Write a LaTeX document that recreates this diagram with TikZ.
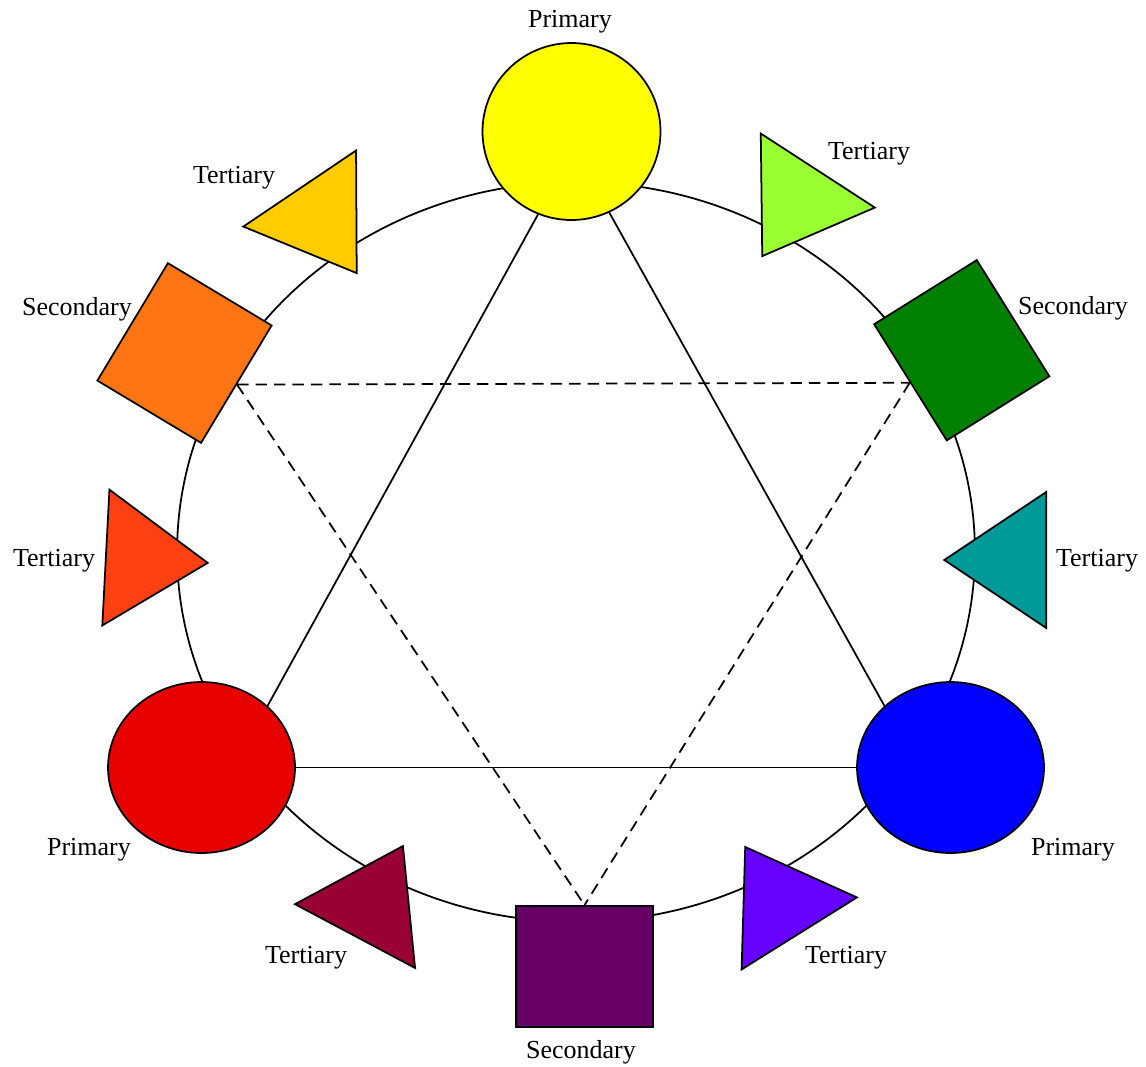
\documentclass[tikz,border=0pt]{standalone}
\usepackage{fontspec}
\setmainfont{Liberation Serif}
\usetikzlibrary{shapes.geometric}

\definecolor{hueyellow}{HTML}{FFFF00}
\definecolor{huelime}{HTML}{99FF33}
\definecolor{huegreen}{HTML}{008000}
\definecolor{hueteal}{HTML}{009999}
\definecolor{hueblue}{HTML}{0000FF}
\definecolor{hueviolet}{HTML}{6600FF}
\definecolor{huepurple}{HTML}{660066}
\definecolor{huecrimson}{HTML}{990033}
\definecolor{huered}{HTML}{E60000}
\definecolor{huevermilion}{HTML}{FF4013}
\definecolor{hueorange}{HTML}{FF7514}
\definecolor{huegold}{HTML}{FFCC00}

\begin{document}
\begin{tikzpicture}[x=0.02cm,y=-0.02cm]

\tikzset{
  huelabel/.style={font=\fontsize{14.8}{17}\selectfont, anchor=base, inner sep=0pt},
  wheelring/.style={ellipse, draw=black, line width=1pt, inner sep=0pt,
                  minimum width=15.96cm, minimum height=14.8cm},
  primarydisc/.style={ellipse, draw=black, line width=1pt, fill=#1, inner sep=0pt,
                  minimum width=3.74cm, minimum height=3.42cm},
  secondarybox/.style={rectangle, draw=black, line width=1pt, fill=#1, inner sep=0pt,
                  minimum width=2.74cm, minimum height=2.42cm},
  tertiarywedge/.style={isosceles triangle, isosceles triangle stretches,
                  draw=black, line width=1pt, fill=#1, inner sep=0pt,
                  minimum width=2.72cm, minimum height=2.04cm, anchor=apex},
  mixline/.style={black, line width=1pt},
  secline/.style={black, line width=1pt, dash pattern=on 6.5pt off 4pt}
}

\useasboundingbox (0,0) rectangle (1146,1066);

% Ring
\node[wheelring] (wheel) at (576,552) {};

% Primary colours
\node[primarydisc=hueyellow, minimum width=3.56cm, minimum height=3.54cm] (yellow) at (571.5,131.5) {};
\node[primarydisc=hueblue] (blue) at (950.5,767.5) {};
\node[primarydisc=huered]  (red)  at (201.5,767.5) {};

% Secondary colours
\node[secondarybox=huegreen, rotate=-58] (green)  at (961.75,350.25) {};
\node[secondarybox=huepurple]            (purple) at (584.5,966.5) {};
\node[secondarybox=hueorange, rotate=59] (orange) at (184.5,353) {};

% Tertiary colours
\node[tertiarywedge=huelime, rotate=237]     (lime)      at (761,258) {};
\node[tertiarywedge=hueteal, rotate=180]     (teal)      at (942,560) {};
\node[tertiarywedge=hueviolet, rotate=122]   (violet)    at (744,845) {};
\node[tertiarywedge=huecrimson, rotate=62]   (crimson)   at (404,844) {};
\node[tertiarywedge=huevermilion, rotate=-3] (vermilion) at (210,563) {};
\node[tertiarywedge=huegold, rotate=-56]     (gold)      at (358,275) {};

% Labels
\node[huelabel] (lyellow)    at (570,27)   {Primary};
\node[huelabel] (llime)      at (869,159)  {Tertiary};
\node[huelabel] (lgreen)     at (1073,314) {Secondary};
\node[huelabel] (lteal)      at (1097,566) {Tertiary};
\node[huelabel] (lblue)      at (1073,855) {Primary};
\node[huelabel] (lviolet)    at (846,963)  {Tertiary};
\node[huelabel] (lpurple)    at (581,1058) {Secondary};
\node[huelabel] (lcrimson)   at (306,963)  {Tertiary};
\node[huelabel] (lred)       at (89,855)   {Primary};
\node[huelabel] (lvermilion) at (54,566)   {Tertiary};
\node[huelabel] (lorange)    at (77,315)   {Secondary};
\node[huelabel] (lgold)      at (234,183)  {Tertiary};

% Primary triangle
\draw[mixline] (yellow.248) -- (red.43);
\draw[mixline] (yellow.295) -- (blue.137);
\draw[mixline] (red.east)   -- (blue.west);

% Secondary triangle
\draw[secline] (orange.south) -- (green.south);
\draw[secline] (orange.south) -- (purple.north);
\draw[secline] (green.south)  -- (purple.north);

\end{tikzpicture}
\end{document}
